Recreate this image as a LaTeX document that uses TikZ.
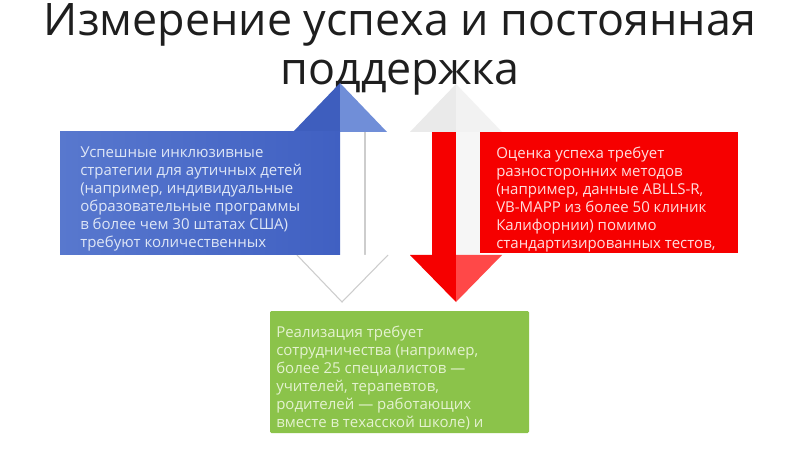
\documentclass[tikz,border=0pt]{standalone}
\usepackage{fontspec}
\setmainfont{Open Sans}
\definecolor{titlecol}{RGB}{30,30,30}
\definecolor{blueL}{RGB}{88,120,206}
\definecolor{blueR}{RGB}{64,96,194}
\definecolor{blueheadL}{RGB}{62,94,190}
\definecolor{blueheadR}{RGB}{112,142,216}
\definecolor{redbox}{RGB}{246,0,0}
\definecolor{redheadR}{RGB}{255,72,72}
\definecolor{greenbox}{RGB}{139,195,74}
\definecolor{headgrayL}{RGB}{234,234,234}
\definecolor{headgrayR}{RGB}{242,242,242}
\definecolor{shaftlight}{RGB}{246,246,246}
\definecolor{edgegray}{RGB}{205,205,205}
\definecolor{bluetext}{RGB}{222,230,246}
\definecolor{redtext}{RGB}{255,222,222}
\definecolor{greentext}{RGB}{228,242,208}
\tikzset{
  titletext/.style={inner sep=0pt, text=titlecol, font=\fontsize{33.6pt}{36.75pt}\selectfont},
  boxtext/.style={inner sep=0pt, anchor=north west, align=left, font=\fontsize{11.25pt}{13.5pt}\selectfont},
  panel/.style={inner sep=0pt, draw=none}
}
\begin{document}
\begin{tikzpicture}[x=0.75pt,y=-0.75pt]
\useasboundingbox[fill=white] (0,0) rectangle (800,449);

% title
\node[titletext, anchor=base] (t1) at (400,36) {Измерение успеха и постоянная};
\node[titletext, anchor=base] (t2) at (400,85) {поддержка};

% blue double arrow (up)
\fill[blueheadL] (293,132) -- (340,83) -- (340,132) -- cycle;
\fill[blueheadR] (340,83) -- (387,132) -- (340,132) -- cycle;
\fill[white] (317,132) rectangle (365,255);
\draw[edgegray, line width=0.8pt] (365,132) -- (365,255);
\fill[white] (297,255) -- (342,302) -- (388,255) -- cycle;
\draw[edgegray, line width=0.8pt] (297,255) -- (342,302) -- (388,255);

% red double arrow (down)
\fill[headgrayL] (410,132) -- (456,84) -- (456,132) -- cycle;
\fill[headgrayR] (456,84) -- (502,132) -- (456,132) -- cycle;
\fill[redbox] (432,132) rectangle (456,255);
\fill[shaftlight] (456,132) rectangle (480,255);
\fill[redbox] (410,255) -- (456,302) -- (456,255) -- cycle;
\fill[redheadR] (456,302) -- (502,255) -- (456,255) -- cycle;

% boxes
\node[panel, minimum width=210pt, minimum height=92.25pt, left color=blueL, right color=blueR] (bluebox) at (200,193.5) {};
\node[panel, minimum width=193.5pt, minimum height=90.75pt, fill=redbox] (redbox) at (609,192.5) {};
\node[panel, minimum width=194.25pt, minimum height=91.5pt, fill=greenbox, rounded corners=1pt] (greenbox) at (399.5,372) {};

% texts
\node[boxtext, text=bluetext] (bluetxt) at (80,146.5) {Успешные инклюзивные\\стратегии для аутичных детей\\(например, индивидуальные\\образовательные программы\\в более чем 30 штатах США)\\требуют количественных};
\node[boxtext, text=redtext] (redtxt) at (496,146.5) {Оценка успеха требует\\разносторонних методов\\(например, данные ABLLS-R,\\VB-MAPP из более 50 клиник\\Калифорнии) помимо\\стандартизированных тестов,};
\node[boxtext, text=greentext] (greentxt) at (276,326) {Реализация требует\\сотрудничества (например,\\более 25 специалистов —\\учителей, терапевтов,\\родителей — работающих\\вместе в техасской школе) и};
\end{tikzpicture}
\end{document}
